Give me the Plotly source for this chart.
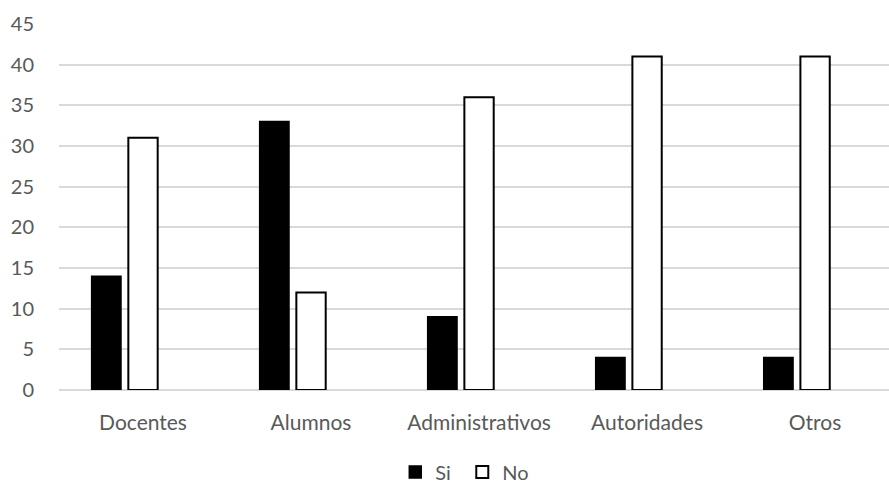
import plotly.graph_objects as go

categories = ["Docentes", "Alumnos", "Administrativos", "Autoridades", "Otros"]
si_values = [14, 33, 9, 4, 4]
no_values = [31, 12, 36, 41, 41]
blank_values = [None, None, None, None, None]  # empty third series slot (as in the original chart)
y_ticks = [0, 5, 10, 15, 20, 25, 30, 35, 40, 45]

fig = go.Figure()
fig.add_trace(go.Bar(x=categories, y=si_values, name="Si",
                     marker=dict(color="#000000", line=dict(color="#000000", width=1.5))))
fig.add_trace(go.Bar(x=categories, y=no_values, name="No",
                     marker=dict(color="#ffffff", line=dict(color="#000000", width=2))))
fig.add_trace(go.Bar(x=categories, y=blank_values, name="", showlegend=False,
                     hoverinfo="skip", marker=dict(color="rgba(0,0,0,0)")))

FONT = "Lato, Carlito, Liberation Sans, sans-serif"
fig.update_layout(
    width=889, height=483,
    margin=dict(l=59, r=0, t=24, b=93),
    paper_bgcolor="white", plot_bgcolor="white",
    barmode="group", bargap=0.345, bargroupgap=0.2,
    font=dict(family=FONT, size=20, color="#595959"),
    xaxis=dict(showgrid=False, showline=False, ticks="", automargin=False,
               range=[-0.5, 4.44],
               ticklabelstandoff=18, tickfont=dict(size=21, color="#595959")),
    yaxis=dict(range=[0, 45], tickvals=y_ticks, showgrid=True, gridcolor="#d9d9d9", gridwidth=1.5,
               zeroline=True, zerolinecolor="#d9d9d9", zerolinewidth=1.5, automargin=False,
               ticks="", ticklabelstandoff=24, tickfont=dict(size=20, color="#595959")),
    legend=dict(orientation="h", xref="container", x=0.52, xanchor="center",
                yref="container", y=1 - 472 / 483, yanchor="middle",
                font=dict(size=20, color="#595959"), itemwidth=30, traceorder="normal",
                entrywidth=22, entrywidthmode="pixels"),
    showlegend=True,
)

fig.write_html("out.html", config={"displayModeBar": False},
               post_script="document.body.style.margin='0';document.body.style.overflow='hidden';")
